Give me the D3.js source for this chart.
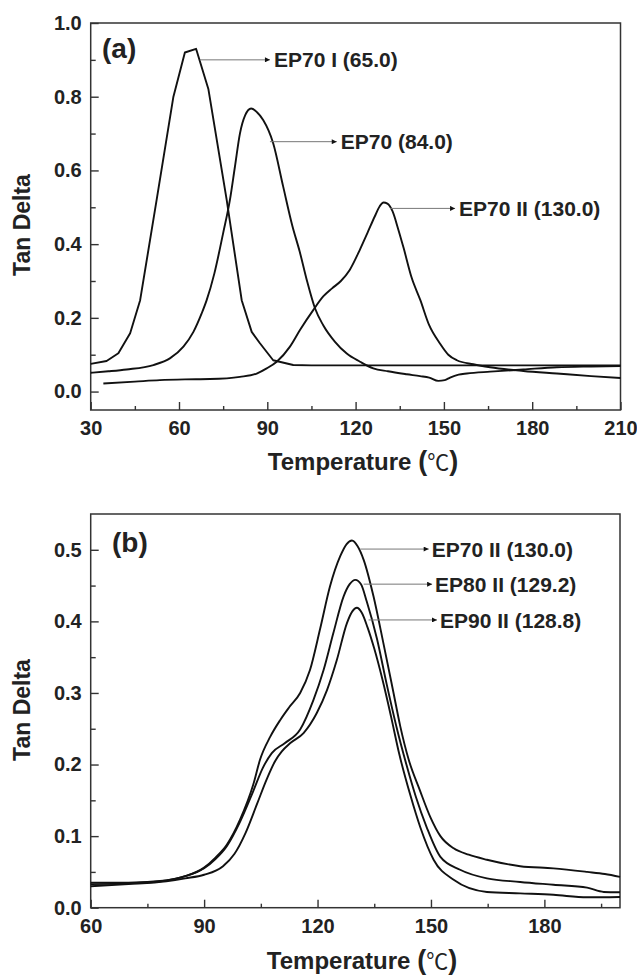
<!DOCTYPE html>
<html>
<head>
<meta charset="utf-8">
<script src="https://cdn.jsdelivr.net/npm/d3@7"></script>
<style>
  body { margin: 0; background: #fff; }
  svg { display: block; }
</style>
</head>
<body>
<svg id="fig" width="637" height="977"></svg>
<script>
// ---- panel (a): tan delta vs temperature ----
const aTicksX = [30, 60, 90, 120, 150, 180, 210];
const aMinorX = [45, 75, 105, 135, 165, 195];
const aTicksY = [0.0, 0.2, 0.4, 0.6, 0.8, 1.0];
const aMinorY = [0.1, 0.3, 0.5, 0.7, 0.9];

const ep70I_T   = [30, 35.4, 39.4, 43.4, 46.8, 52.4, 58.1, 62, 65.8, 70, 76.2, 81.3, 84.7, 87.5, 92, 98.8, 105, 210];
const ep70I_tan = [0.075, 0.083, 0.104, 0.158, 0.248, 0.52, 0.80, 0.92, 0.93, 0.82, 0.52, 0.248, 0.162, 0.131, 0.085, 0.072, 0.071, 0.071];

const ep70_T   = [30, 36, 42.2, 51.3, 56.9, 61.5, 64.9, 67.7, 69.4, 72, 75, 77.3, 79, 80.7, 82.5, 84.5, 86.5, 88.6, 92, 95.4, 98.5, 101, 103.5, 106.2, 109, 113, 117, 121.5, 126, 131, 137.4, 141.9, 145, 148.1, 150.3, 152.1, 155, 157.8, 165.7, 177, 188.4, 200, 210];
const ep70_tan = [0.051, 0.055, 0.060, 0.072, 0.090, 0.122, 0.162, 0.212, 0.248, 0.32, 0.43, 0.52, 0.61, 0.70, 0.75, 0.768, 0.758, 0.737, 0.674, 0.556, 0.45, 0.38, 0.30, 0.226, 0.18, 0.135, 0.103, 0.081, 0.063, 0.055, 0.047, 0.042, 0.038, 0.029, 0.031, 0.038, 0.046, 0.049, 0.054, 0.060, 0.066, 0.068, 0.069];

const ep70II_T   = [34.3, 45, 53.5, 62, 70.5, 80.7, 86.4, 89.8, 93.2, 97.7, 101.1, 105.6, 109, 112, 115, 118, 121.4, 124, 126.5, 128.2, 129.5, 130.8, 132.5, 134.5, 136.3, 139, 142, 145, 148.7, 151.5, 154.4, 160, 165.7, 177, 188.4, 200, 210];
const ep70II_tan = [0.022, 0.027, 0.031, 0.033, 0.034, 0.040, 0.049, 0.063, 0.081, 0.122, 0.167, 0.221, 0.258, 0.28, 0.30, 0.33, 0.384, 0.43, 0.475, 0.503, 0.513, 0.51, 0.49, 0.44, 0.39, 0.31, 0.248, 0.18, 0.13, 0.10, 0.085, 0.074, 0.066, 0.056, 0.049, 0.042, 0.037];

// annotation: label, arrow start T, arrow end T, level
const aLabels = ["EP70 I (65.0)", "EP70 (84.0)", "EP70 II (130.0)"];
const aArrowFrom = [67.1, 90.9, 131.7];
const aArrowTo   = [90.9, 113.6, 153.8];
const aArrowLvl  = [0.90, 0.678, 0.497];

// ---- panel (b) ----
const bTicksX = [60, 90, 120, 150, 180];
const bMinorX = [75, 105, 135, 165, 195];
const bTicksY = [0.0, 0.1, 0.2, 0.3, 0.4, 0.5];
const bMinorY = [0.05, 0.15, 0.25, 0.35, 0.45];

const bEP70_T   = [60, 70, 80, 85, 90, 93, 96, 99.5, 103, 104.8, 107.5, 110.1, 112.5, 115.4, 118, 120.7, 123.3, 126, 127.7, 129.1, 130.6, 132.2, 134.8, 137.4, 140.1, 141.9, 144.1, 147, 149.8, 152.5, 156, 160, 164.8, 173.6, 182.4, 191.3, 196, 200];
const bEP70_tan = [0.033, 0.034, 0.038, 0.044, 0.056, 0.070, 0.088, 0.123, 0.172, 0.207, 0.239, 0.262, 0.28, 0.30, 0.332, 0.39, 0.449, 0.491, 0.508, 0.513, 0.505, 0.486, 0.435, 0.370, 0.300, 0.253, 0.207, 0.165, 0.127, 0.10, 0.083, 0.074, 0.067, 0.058, 0.055, 0.050, 0.047, 0.043];

const bEP80_T   = [60, 70, 80, 85, 90, 93, 96, 99.5, 103, 105.5, 107.9, 111.4, 115.4, 118.9, 121.6, 124.2, 126.9, 128.5, 130, 131.5, 133, 135.7, 138.3, 141, 143.5, 146, 148.9, 152.5, 157.7, 164.8, 173.6, 182.4, 191.3, 195.7, 200];
const bEP80_tan = [0.035, 0.035, 0.038, 0.044, 0.055, 0.068, 0.086, 0.120, 0.163, 0.195, 0.216, 0.230, 0.249, 0.290, 0.332, 0.384, 0.435, 0.452, 0.458, 0.452, 0.428, 0.376, 0.312, 0.250, 0.200, 0.155, 0.112, 0.071, 0.053, 0.041, 0.036, 0.032, 0.028, 0.022, 0.0215];

const bEP90_T   = [60, 70, 80, 85, 90, 95, 98, 101, 104, 106.6, 108.8, 110.5, 112.8, 116.3, 119.8, 122.5, 125.1, 127.8, 129.2, 130.4, 131.7, 133.2, 135, 137.2, 139.4, 141.6, 144.5, 147.2, 150.7, 156, 164.8, 173.6, 182.4, 191.3, 200];
const bEP90_tan = [0.030, 0.033, 0.037, 0.041, 0.046, 0.058, 0.075, 0.105, 0.145, 0.18, 0.205, 0.218, 0.230, 0.244, 0.272, 0.304, 0.346, 0.398, 0.414, 0.419, 0.412, 0.392, 0.362, 0.318, 0.268, 0.215, 0.158, 0.112, 0.067, 0.039, 0.022, 0.020, 0.018, 0.0145, 0.015];

const bLabels = ["EP70 II (130.0)", "EP80 II (129.2)", "EP90 II (128.8)"];
const bArrowFrom = [131.3, 132.2, 133.5];
const bArrowTo   = [149.4, 150.3, 151.6];
const bArrowLvl  = [0.501, 0.452, 0.402];

const FONT = "'Liberation Sans', Arial, Helvetica, sans-serif";
const svg = d3.select("#fig");

// small arrowhead
svg.append("defs").append("marker")
  .attr("id", "arr")
  .attr("viewBox", "0 0 10 10")
  .attr("refX", 10).attr("refY", 5)
  .attr("markerWidth", 9).attr("markerHeight", 5)
  .attr("markerUnits", "userSpaceOnUse")
  .attr("orient", "auto")
  .append("path")
  .attr("d", "M0,0L10,5L0,10z")
  .attr("fill", "#111");

function zip(ts, vs) {
  return ts.map(function(t, i) { return {t: t, v: vs[i]}; });
}

function drawPanel(p) {
  const g = svg.append("g");
  const x = d3.scaleLinear().domain(p.xDomain).range(p.xRange);
  const y = d3.scaleLinear().domain(p.yDomain).range(p.yRange);

  // minor ticks first
  g.append("g")
    .attr("transform", "translate(0," + p.yRange[0] + ")")
    .call(d3.axisBottom(x).tickValues(p.minorX).tickSizeInner(-4).tickSizeOuter(0).tickFormat(""))
    .call(s => s.select(".domain").remove());
  g.append("g")
    .attr("transform", "translate(" + p.xRange[0] + ",0)")
    .call(d3.axisLeft(y).tickValues(p.minorY).tickSizeInner(-5).tickSizeOuter(0).tickFormat(""))
    .call(s => s.select(".domain").remove());

  // major ticks + labels
  const ax = g.append("g")
    .attr("transform", "translate(0," + p.yRange[0] + ")")
    .call(d3.axisBottom(x).tickValues(p.ticksX).tickSizeInner(-8).tickSizeOuter(0).tickPadding(11).tickFormat(d3.format("d")));
  const ay = g.append("g")
    .attr("transform", "translate(" + p.xRange[0] + ",0)")
    .call(d3.axisLeft(y).tickValues(p.ticksY).tickSizeInner(-8).tickSizeOuter(0).tickPadding(9).tickFormat(d3.format(".1f")));
  [ax, ay].forEach(function(a) {
    a.select(".domain").remove();
    a.attr("font-family", FONT).attr("font-size", 20).attr("font-weight", "bold");
    a.selectAll("text").attr("fill", "#222");
  });
  g.selectAll(".tick line").attr("stroke", "#333").attr("stroke-width", 1.4);

  // frame
  g.append("rect")
    .attr("x", p.xRange[0]).attr("y", p.yRange[1])
    .attr("width", p.xRange[1] - p.xRange[0])
    .attr("height", p.yRange[0] - p.yRange[1])
    .attr("fill", "none").attr("stroke", "#333").attr("stroke-width", 1.5);

  // curves
  p.series.forEach(function(s) {
    const line = d3.line()
      .x(d => x(d.t)).y(d => y(d.v))
      .curve(s.linear ? d3.curveLinear : d3.curveMonotoneX);
    g.append("path")
      .datum(s.data)
      .attr("d", line)
      .attr("fill", "none")
      .attr("stroke", "#111")
      .attr("stroke-width", 1.9)
      .attr("stroke-linejoin", "round");
  });

  // annotations
  p.labels.forEach(function(lab, i) {
    const yy = y(p.lvl[i]);
    g.append("line")
      .attr("x1", x(p.from[i])).attr("x2", x(p.to[i]))
      .attr("y1", yy).attr("y2", yy)
      .attr("stroke", "#777").attr("stroke-width", 1)
      .attr("marker-end", "url(#arr)");
    g.append("text")
      .attr("x", x(p.to[i]) + p.gap).attr("y", yy)
      .attr("dy", "0.36em")
      .attr("font-family", FONT).attr("font-size", 21).attr("font-weight", "bold")
      .attr("fill", "#222")
      .text(lab);
  });

  // panel letter
  g.append("text")
    .attr("x", p.letterX).attr("y", p.letterY)
    .attr("font-family", FONT).attr("font-size", 28).attr("font-weight", "bold")
    .attr("fill", "#222")
    .text(p.letter);

  // y title
  g.append("text")
    .attr("transform", "translate(30," + p.yTitleC + ") rotate(-90)")
    .attr("text-anchor", "middle")
    .attr("font-family", FONT).attr("font-size", 23).attr("font-weight", "bold")
    .attr("fill", "#222")
    .text("Tan Delta");

  // x title with the degree sign in a CJK face
  const xt = g.append("text")
    .attr("x", p.xTitleC).attr("y", p.xTitleY)
    .attr("text-anchor", "middle")
    .attr("font-family", FONT).attr("font-size", 24).attr("font-weight", "bold")
    .attr("fill", "#222");
  xt.append("tspan").text("Temperature ");
  xt.append("tspan").attr("font-size", 27).text("(");
  xt.append("tspan").attr("font-family", "'Noto Sans CJK SC', sans-serif")
    .attr("font-weight", "normal").attr("font-size", 22).text("℃");
  xt.append("tspan").attr("font-size", 27).text(")");
}

drawPanel({
  xDomain: [30, 210], xRange: [90.7, 620.5],
  yDomain: [-0.05, 1.0], yRange: [410, 23],
  ticksX: aTicksX, minorX: aMinorX, ticksY: aTicksY, minorY: aMinorY,
  series: [
    {data: zip(ep70I_T, ep70I_tan), linear: true},
    {data: zip(ep70_T, ep70_tan)},
    {data: zip(ep70II_T, ep70II_tan)}
  ],
  labels: aLabels, from: aArrowFrom, to: aArrowTo, lvl: aArrowLvl, gap: 4,
  letter: "(a)", letterX: 102, letterY: 58,
  yTitleC: 225, xTitleC: 363, xTitleY: 470
});

drawPanel({
  xDomain: [60, 200], xRange: [90.7, 620],
  yDomain: [0, 0.55], yRange: [907.7, 514],
  ticksX: bTicksX, minorX: bMinorX, ticksY: bTicksY, minorY: bMinorY,
  series: [
    {data: zip(bEP70_T, bEP70_tan)},
    {data: zip(bEP80_T, bEP80_tan)},
    {data: zip(bEP90_T, bEP90_tan)}
  ],
  labels: bLabels, from: bArrowFrom, to: bArrowTo, lvl: bArrowLvl, gap: 3,
  letter: "(b)", letterX: 112, letterY: 552,
  yTitleC: 710, xTitleC: 362, xTitleY: 969
});
</script>
</body>
</html>
